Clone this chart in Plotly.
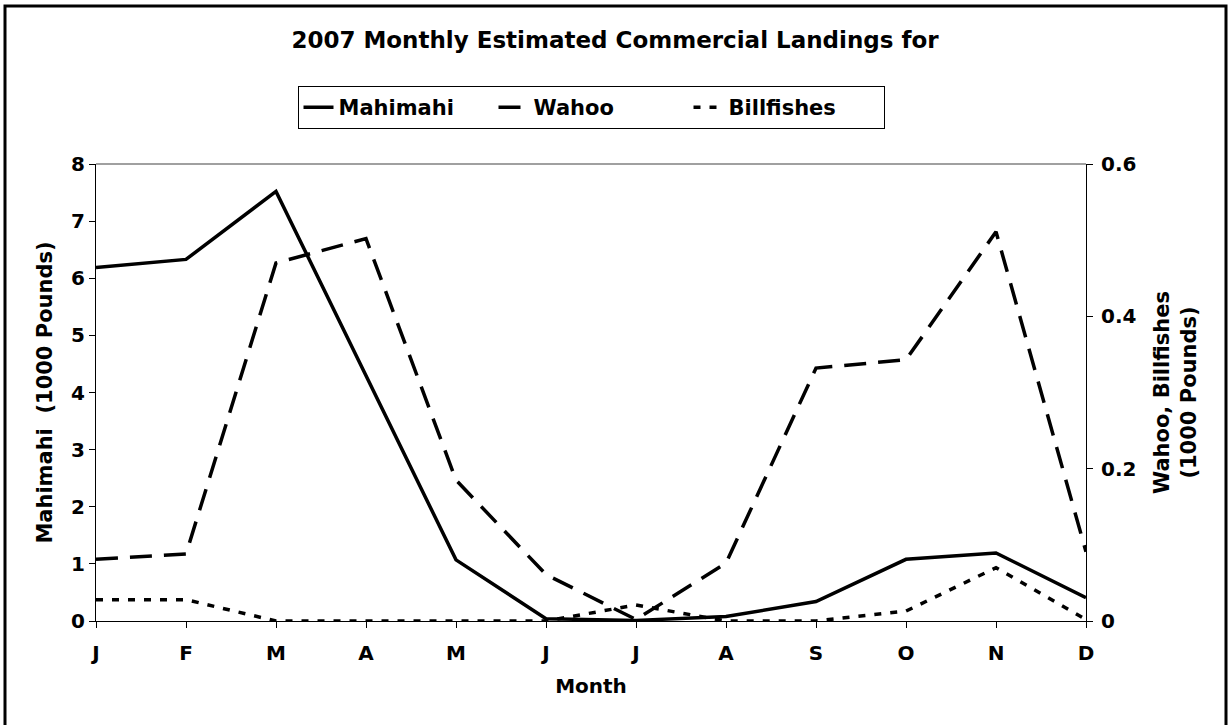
import plotly.graph_objects as go

months = ["J", "F", "M", "A", "M", "J", "J", "A", "S", "O", "N", "D"]
mahimahi = [6.19, 6.33, 7.52, 4.3, 1.07, 0.04, 0.01, 0.08, 0.34, 1.08, 1.19, 0.41]
wahoo = [0.081, 0.088, 0.470, 0.502, 0.185, 0.061, 0.002, 0.076, 0.332, 0.343, 0.511, 0.091]
billfishes = [0.028, 0.028, 0.0, 0.0, 0.0, 0.0, 0.021, 0.0, 0.0, 0.013, 0.070, 0.002]

x = list(range(len(months)))
FONT = "DejaVu Sans"

fig = go.Figure()
fig.add_trace(go.Scatter(x=x, y=mahimahi, name="<b>Mahimahi</b>", mode="lines",
                         line=dict(color="black", width=3.5)))
fig.add_trace(go.Scatter(x=x, y=wahoo, name="<b>Wahoo</b>", mode="lines", yaxis="y2",
                         line=dict(color="black", width=3.5, dash="22px,12px")))
fig.add_trace(go.Scatter(x=x, y=billfishes, name="<b>Billfishes</b>", mode="lines", yaxis="y2",
                         line=dict(color="black", width=3.5, dash="7px,9px")))

L, R, T, B = 96, 1086, 164, 621
W, H = 1230, 725

def px(xp):
    return (xp - L) / (R - L)

def py(yp):
    return (B - yp) / (B - T)

fig.update_layout(
    width=W, height=H,
    margin=dict(l=L, r=W - R, t=T, b=H - B),
    plot_bgcolor="white", paper_bgcolor="white",
    font=dict(family=FONT, color="black", size=16),
    title=dict(text="<b>2007 Monthly Estimated Commercial Landings for</b>",
               x=0.5, xanchor="center", y=1 - 40 / H, yanchor="middle",
               font=dict(family=FONT, size=23, color="black")),
    showlegend=True,
    legend=dict(orientation="h", x=px(591), xanchor="center", y=py(86), yanchor="top",
                bordercolor="black", borderwidth=1, bgcolor="white",
                font=dict(family=FONT, size=21, color="black"),
                entrywidth=150, entrywidthmode="pixels", tracegroupgap=0),
    xaxis=dict(range=[0, 11], tickmode="array", tickvals=x, ticktext=[f"<b>{m}</b>" for m in months],
               showgrid=False, zeroline=False, showline=True, linecolor="black", linewidth=1,
               ticks="outside", ticklen=6, tickcolor="black", ticklabelstandoff=8,
               tickfont=dict(family=FONT, size=20),
               title=dict(text="<b>Month</b>", font=dict(family=FONT, size=20), standoff=14)),
    yaxis=dict(range=[0, 8], dtick=1, tickformat="d", showgrid=False, zeroline=False,
               showline=True, linecolor="black", linewidth=1,
               ticks="outside", ticklen=6, tickcolor="black",
               tickprefix="<b>", ticksuffix="</b>",
               tickfont=dict(family=FONT, size=20),
               title=dict(text="<b>Mahimahi  (1000 Pounds)</b>", font=dict(family=FONT, size=21), standoff=12)),
    yaxis2=dict(range=[0, 0.6], tickvals=[0, 0.2, 0.4, 0.6], ticktext=["<b>0</b>", "<b>0.2</b>", "<b>0.4</b>", "<b>0.6</b>"],
                overlaying="y", side="right", showgrid=False, zeroline=False,
                showline=True, linecolor="black", linewidth=1,
                ticks="outside", ticklen=6, tickcolor="black", ticklabelstandoff=4,
                tickfont=dict(family=FONT, size=20),
                title=dict(text="<b>Wahoo, Billfishes<br>(1000 Pounds)</b>", font=dict(family=FONT, size=21), standoff=18)),
)

# gray top edge of plot area
fig.add_shape(type="line", xref="paper", yref="paper", x0=0, x1=1, y0=1, y1=1,
              line=dict(color="#808080", width=1.5))
# outer chart border
fig.add_shape(type="rect", xref="paper", yref="paper",
              x0=px(5), x1=px(1226), y0=py(735), y1=py(6),
              line=dict(color="black", width=3), layer="below")

fig.write_html("out.html", config={"displayModeBar": False},
               post_script="document.body.style.margin='0';")
